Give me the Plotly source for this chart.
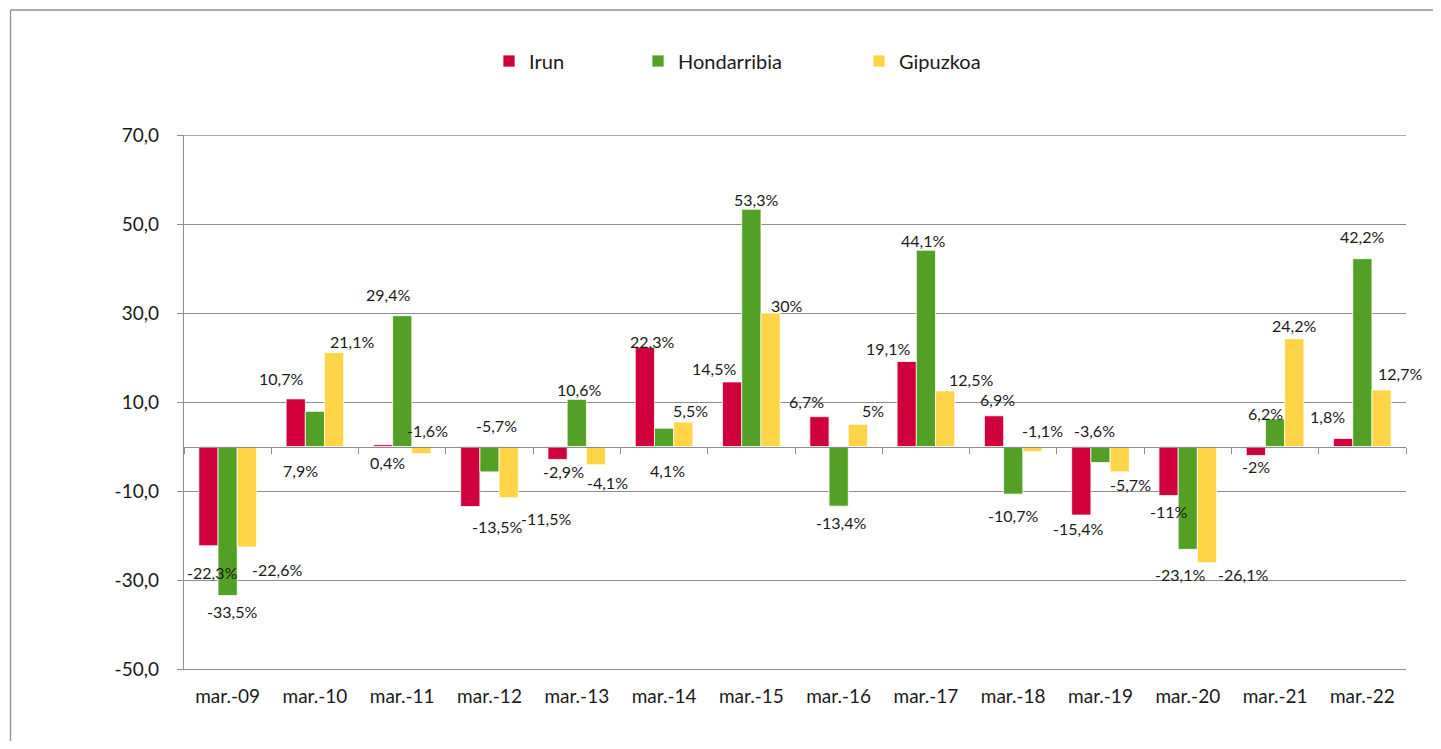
import plotly.graph_objects as go

categories = ["mar.-09", "mar.-10", "mar.-11", "mar.-12", "mar.-13", "mar.-14", "mar.-15",
              "mar.-16", "mar.-17", "mar.-18", "mar.-19", "mar.-20", "mar.-21", "mar.-22"]
series_names = ["Irun", "Hondarribia", "Gipuzkoa"]
irun = [-22.3, 10.7, 0.4, -13.5, -2.9, 22.3, 14.5, 6.7, 19.1, 6.9, -15.4, -11, -2, 1.8]
hondarribia = [-33.5, 7.9, 29.4, -5.7, 10.6, 4.1, 53.3, -13.4, 44.1, -10.7, -3.6, -23.1, 6.2, 42.2]
gipuzkoa = [-22.6, 21.1, -1.6, -11.5, -4.1, 5.5, 30, 5, 12.5, -1.1, -5.7, -26.1, 24.2, 12.7]
y_ticks = [-50, -30, -10, 10, 30, 50, 70]
y_tick_text = ["-50,0", "-30,0", "-10,0", "10,0", "30,0", "50,0", "70,0"]

# label placement offsets (screen px: dx right, dy down) relative to bar end
irun_off = [(4, 27), (-15, -20), (4, 18), (27, 20), (6, 12), (7, -6), (-18, -13), (-13, -15),
            (-19, -13), (3, -16), (-3, 13), (0, 16), (0, 11), (-16, -22)]
hond_off = [(4, 16), (-14, 59), (-14, -21), (7, -46), (2, -10), (3, 42), (5, -10), (2, 16),
            (-3, -10), (0, 21), (-6, -32), (-8, 25), (-10, -5), (0, -22)]
gip_off = [(30, 22), (18, -11), (6, -23), (37, 21), (12, 18), (7, -12), (16, -8), (15, -14),
           (26, -11), (10, -21), (11, 13), (36, 12), (0, -13), (18, -16)]

colors = ["#D0003C", "#52A126", "#FFD447"]
values = [irun, hondarribia, gipuzkoa]
offsets = [irun_off, hond_off, gip_off]

# page places the figure at (8, 8); keep the figure inside the window
OX, OY = 8, 8
W, H = 1441 - 2 * OX, 749 - 2 * OY
ML, MT = 184 - OX, 135 - OY
PW, PH = 1222, 534
MR, MB = W - ML - PW, H - MT - PH
YMIN, YMAX = -50, 70
BARGAP = 0.34
FONT = "Lato"
GRID = "#8E8E8E"
TXT = "#1A1A1A"


def px_x(p):
    return (p - OX - ML) / PW


def px_y(p):
    return (H - MB - (p - OY)) / PH


def fmt(v):
    s = f"{v:.1f}".rstrip("0").rstrip(".")
    return s.replace(".", ",") + "%"


fig = go.Figure()
legend_left_px = [489, 638, 859]
for k, (name, vals, col) in enumerate(zip(series_names, values, colors)):
    fig.add_trace(go.Bar(
        x=categories, y=vals, name=name,
        marker=dict(color=col, line=dict(color="rgba(255,255,255,0.75)", width=1)),
        legend="legend" if k == 0 else f"legend{k + 1}",
        hoverinfo="skip",
    ))

# helper trace for the category axis drawn at zero
fig.add_trace(go.Scatter(x=categories, y=[None] * len(categories), xaxis="x2",
                         showlegend=False, hoverinfo="skip", mode="lines"))

bw = (1 - BARGAP) / 3
annotations = []
for k, (vals, offs) in enumerate(zip(values, offsets)):
    for i, v in enumerate(vals):
        dx, dy = offs[i]
        annotations.append(dict(
            x=i + (k - 1) * bw, y=v, xref="x", yref="y", text=fmt(v),
            showarrow=False, xanchor="center", yanchor="middle",
            xshift=dx, yshift=-dy, font=dict(family=FONT, size=16, color=TXT),
        ))

legends = {}
for k in range(3):
    key = "legend" if k == 0 else f"legend{k + 1}"
    legends[key] = dict(
        x=px_x(legend_left_px[k]), y=px_y(61), xanchor="left", yanchor="middle",
        orientation="h", bgcolor="rgba(0,0,0,0)", borderwidth=0,
        font=dict(family=FONT, size=20, color=TXT),
    )

shapes = [
    # outer chart frame (left and top edges visible)
    dict(type="line", xref="paper", yref="paper",
         x0=px_x(10.5), x1=px_x(10.5), y0=px_y(749 + 30), y1=px_y(10),
         line=dict(color=GRID, width=1.3), layer="below"),
    dict(type="line", xref="paper", yref="paper",
         x0=px_x(10.5), x1=px_x(1441 + 30), y0=px_y(10), y1=px_y(10),
         line=dict(color=GRID, width=1.3), layer="below"),
    # top gridline
    dict(type="line", xref="paper", yref="y", x0=0, x1=1, y0=YMAX, y1=YMAX,
         line=dict(color=GRID, width=1.3), layer="below"),
]

fig.update_layout(
    width=W, height=H,
    margin=dict(l=ML, r=MR, t=MT, b=MB, pad=0),
    paper_bgcolor="white", plot_bgcolor="white",
    barmode="group", bargap=BARGAP, bargroupgap=0,
    separators=",.",
    font=dict(family=FONT, color=TXT),
    annotations=annotations,
    shapes=shapes,
    xaxis=dict(
        type="category", categoryorder="array", categoryarray=categories,
        range=[-0.5, len(categories) - 0.5],
        showgrid=False, ticks="", showline=True, linecolor=GRID, linewidth=1.3,
        tickfont=dict(family=FONT, size=19, color=TXT), ticklabelstandoff=10,
    ),
    xaxis2=dict(
        type="category", categoryorder="array", categoryarray=categories,
        range=[-0.5, len(categories) - 0.5],
        overlaying="x", anchor="free", position=(0 - YMIN) / (YMAX - YMIN),
        showgrid=False, showticklabels=False, ticks="outside", tickson="boundaries",
        ticklen=6, tickcolor=GRID, tickwidth=1.3, showline=True, linecolor=GRID, linewidth=1.3,
    ),
    yaxis=dict(
        range=[YMIN, YMAX], tickvals=y_ticks, ticktext=y_tick_text,
        showgrid=True, gridcolor=GRID, gridwidth=1.3, zeroline=False,
        showline=True, linecolor=GRID, linewidth=1.3,
        ticks="outside", ticklen=6, tickcolor=GRID, tickwidth=1.3,
        tickfont=dict(family=FONT, size=19, color=TXT), ticklabelstandoff=14,
    ),
    **legends,
)

fig.write_html("out.html")
